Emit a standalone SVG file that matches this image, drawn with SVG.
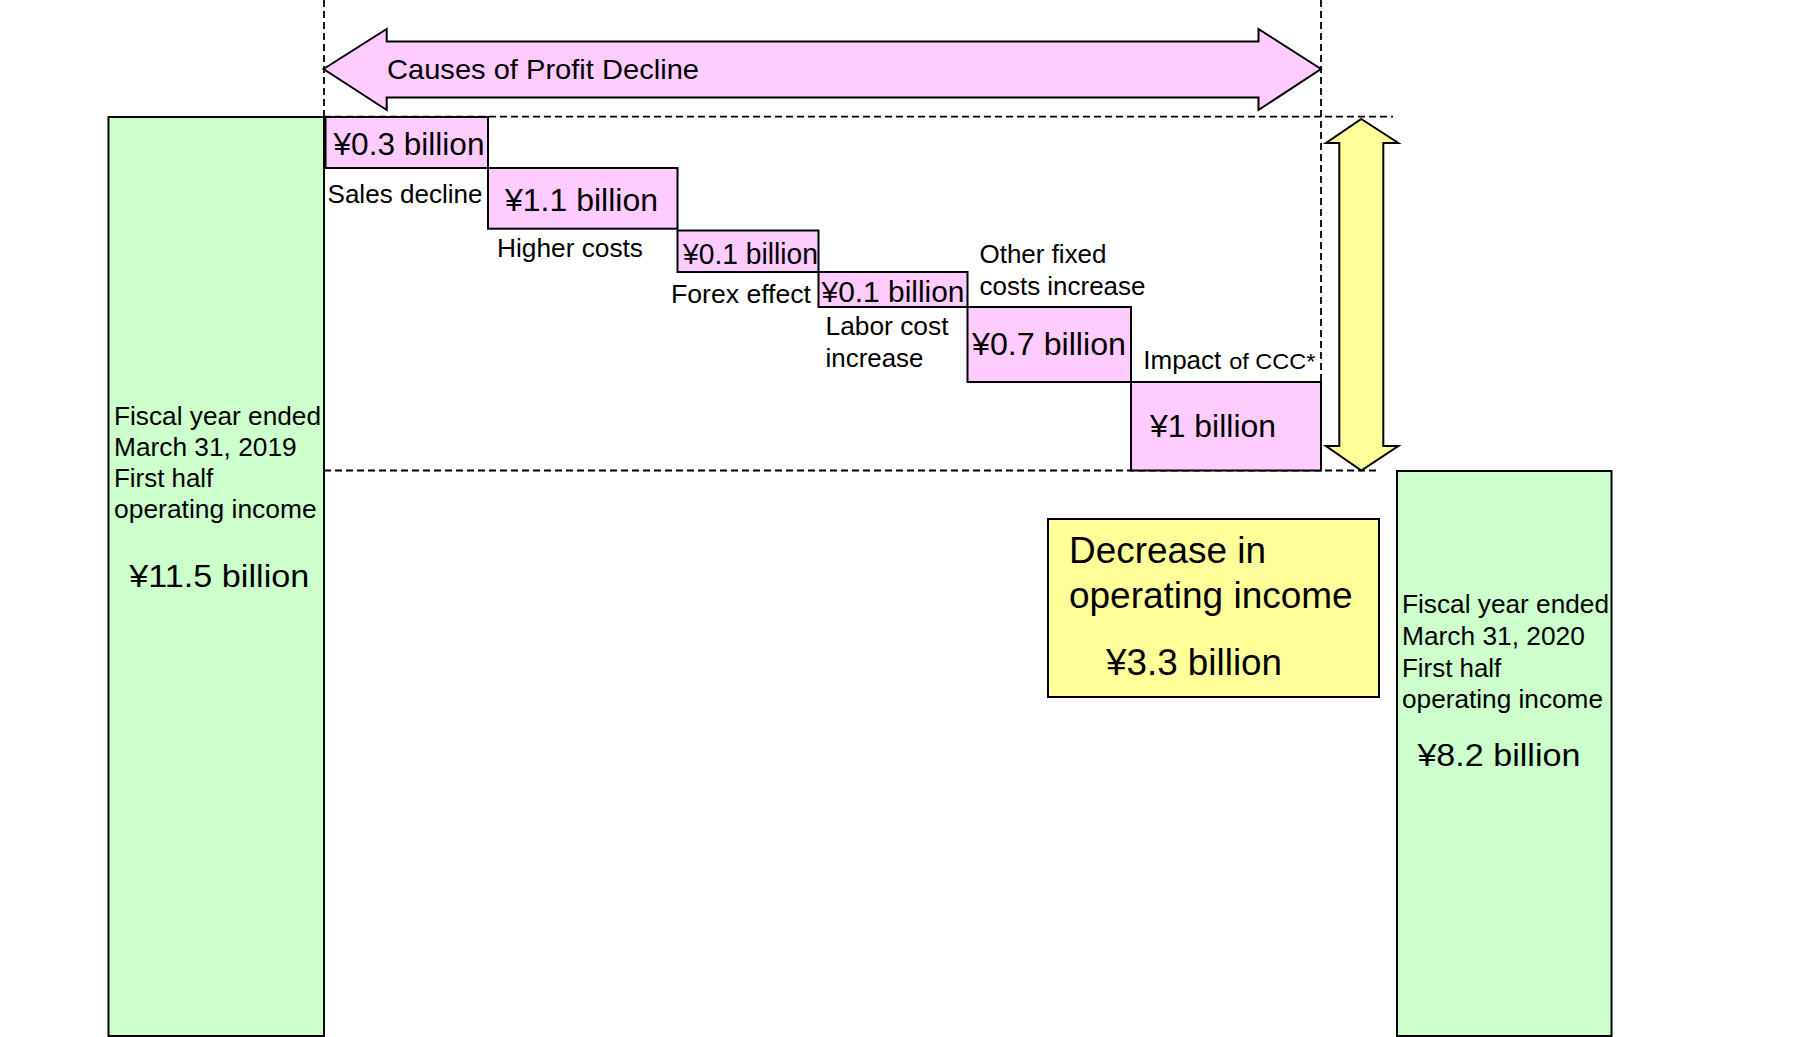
<svg xmlns="http://www.w3.org/2000/svg" width="1810" height="1037" viewBox="0 0 1810 1037">
  <style>
    text { font-family: "Liberation Sans", Arial, sans-serif; fill: #000; }
    .pink { fill: #FFCCFF; stroke: #000; stroke-width: 2; }
    .green { fill: #CCFFCC; stroke: #000; stroke-width: 2; }
    .yellow { fill: #FFFF99; stroke: #000; stroke-width: 2; }
    .dash { fill: none; stroke: #000; stroke-width: 1.8; stroke-dasharray: 7 4; }
    .val { font-size: 31px; }
    .lbl { font-size: 25.5px; }
    .bar { font-size: 25px; }
    .big { font-size: 32px; }
    .yb { font-size: 36px; }
  </style>
  <rect width="1810" height="1037" fill="#fff"/>

  <g id="bar-2019">
    <rect class="green" x="108.5" y="117" width="215.5" height="919"/>
    <text class="bar" x="114" y="425" textLength="207" lengthAdjust="spacingAndGlyphs">Fiscal year ended</text>
    <text class="bar" x="114" y="456" textLength="182.7" lengthAdjust="spacingAndGlyphs">March 31, 2019</text>
    <text class="bar" x="114" y="486.7" textLength="99.3" lengthAdjust="spacingAndGlyphs">First half</text>
    <text class="bar" x="114" y="517.5" textLength="202.7" lengthAdjust="spacingAndGlyphs">operating income</text>
    <text class="big" x="129.3" y="587.3" textLength="180" lengthAdjust="spacingAndGlyphs">¥11.5 billion</text>
  </g>

  <g id="bar-2020">
    <rect class="green" x="1397" y="471" width="214.5" height="565"/>
    <text class="bar" x="1402" y="613.3" textLength="207" lengthAdjust="spacingAndGlyphs">Fiscal year ended</text>
    <text class="bar" x="1402" y="645" textLength="182.8" lengthAdjust="spacingAndGlyphs">March 31, 2020</text>
    <text class="bar" x="1402" y="676.7" textLength="99.3" lengthAdjust="spacingAndGlyphs">First half</text>
    <text class="bar" x="1402" y="708" textLength="201" lengthAdjust="spacingAndGlyphs">operating income</text>
    <text class="big" x="1417.4" y="765.7" textLength="163" lengthAdjust="spacingAndGlyphs">¥8.2 billion</text>
  </g>

  <g id="connectors">
    <line class="dash" x1="324" y1="0" x2="324" y2="117"/>
    <line class="dash" x1="1321" y1="0" x2="1321" y2="471"/>
    <line class="dash" x1="324" y1="116.7" x2="1393" y2="116.7"/>
    <line class="dash" x1="324" y1="470.5" x2="1379" y2="470.5"/>
  </g>

  <g id="causes-arrow">
    <polygon class="pink" points="323.5,69 386.7,29 386.7,41.5 1258.5,41.5 1258.5,29 1321,69 1258.5,110 1258.5,97.5 386.7,97.5 386.7,110"/>
    <text x="387" y="79" font-size="28.5" textLength="312" lengthAdjust="spacingAndGlyphs">Causes of Profit Decline</text>
  </g>

  <g id="sales-decline">
    <rect class="pink" x="325.5" y="117" width="162.5" height="51"/>
    <text class="val" x="333.5" y="155" textLength="151" lengthAdjust="spacingAndGlyphs">¥0.3 billion</text>
    <text class="lbl" x="327.5" y="202.7" textLength="155" lengthAdjust="spacingAndGlyphs">Sales decline</text>
  </g>

  <g id="higher-costs">
    <rect class="pink" x="488" y="168" width="189.5" height="60.7"/>
    <text class="val" x="505" y="210.5" textLength="153" lengthAdjust="spacingAndGlyphs">¥1.1 billion</text>
    <text class="lbl" x="497" y="256.5" textLength="146" lengthAdjust="spacingAndGlyphs">Higher costs</text>
  </g>

  <g id="forex-effect">
    <rect class="pink" x="677.5" y="230.5" width="141" height="41.5"/>
    <text class="val" x="683" y="263.5" textLength="135" lengthAdjust="spacingAndGlyphs" style="font-size:29px">¥0.1 billion</text>
    <text class="lbl" x="671" y="303" textLength="140" lengthAdjust="spacingAndGlyphs">Forex effect</text>
  </g>

  <g id="labor-cost">
    <rect class="pink" x="818.5" y="272" width="149" height="35"/>
    <text class="val" x="821.5" y="301.5" textLength="143" lengthAdjust="spacingAndGlyphs" style="font-size:29px">¥0.1 billion</text>
    <text class="lbl" x="825.5" y="335" textLength="123" lengthAdjust="spacingAndGlyphs">Labor cost</text>
    <text class="lbl" x="825.5" y="366.5" textLength="98" lengthAdjust="spacingAndGlyphs">increase</text>
  </g>

  <g id="other-fixed-costs">
    <rect class="pink" x="967.5" y="307" width="163.5" height="75"/>
    <text class="val" x="972" y="355" textLength="154" lengthAdjust="spacingAndGlyphs">¥0.7 billion</text>
    <text class="lbl" x="979.5" y="263.3" textLength="127" lengthAdjust="spacingAndGlyphs">Other fixed</text>
    <text class="lbl" x="979.5" y="295" textLength="166" lengthAdjust="spacingAndGlyphs">costs increase</text>
  </g>

  <g id="impact-ccc">
    <rect class="pink" x="1131" y="382" width="190" height="88.5"/>
    <text class="val" x="1150" y="437" textLength="126" lengthAdjust="spacingAndGlyphs">¥1 billion</text>
    <text x="1143.3" y="369.3" font-size="25.5" textLength="78" lengthAdjust="spacingAndGlyphs">Impact</text>
    <text x="1229.3" y="369.3" font-size="22.5" textLength="86" lengthAdjust="spacingAndGlyphs">of CCC*</text>
  </g>

  <g id="decrease-arrow">
    <polygon class="yellow" points="1361.3,119 1398.3,143 1383.3,143 1383.3,446 1398.3,446 1361.3,470.5 1326,446 1339.3,446 1339.3,143 1326,143"/>
  </g>

  <g id="decrease-box">
    <rect class="yellow" x="1048" y="519" width="331" height="178"/>
    <text class="yb" x="1069" y="563.3" textLength="197" lengthAdjust="spacingAndGlyphs">Decrease in</text>
    <text class="yb" x="1069" y="608.3" textLength="283.6" lengthAdjust="spacingAndGlyphs">operating income</text>
    <text class="yb" x="1106" y="675" textLength="176" lengthAdjust="spacingAndGlyphs">¥3.3 billion</text>
  </g>
</svg>
